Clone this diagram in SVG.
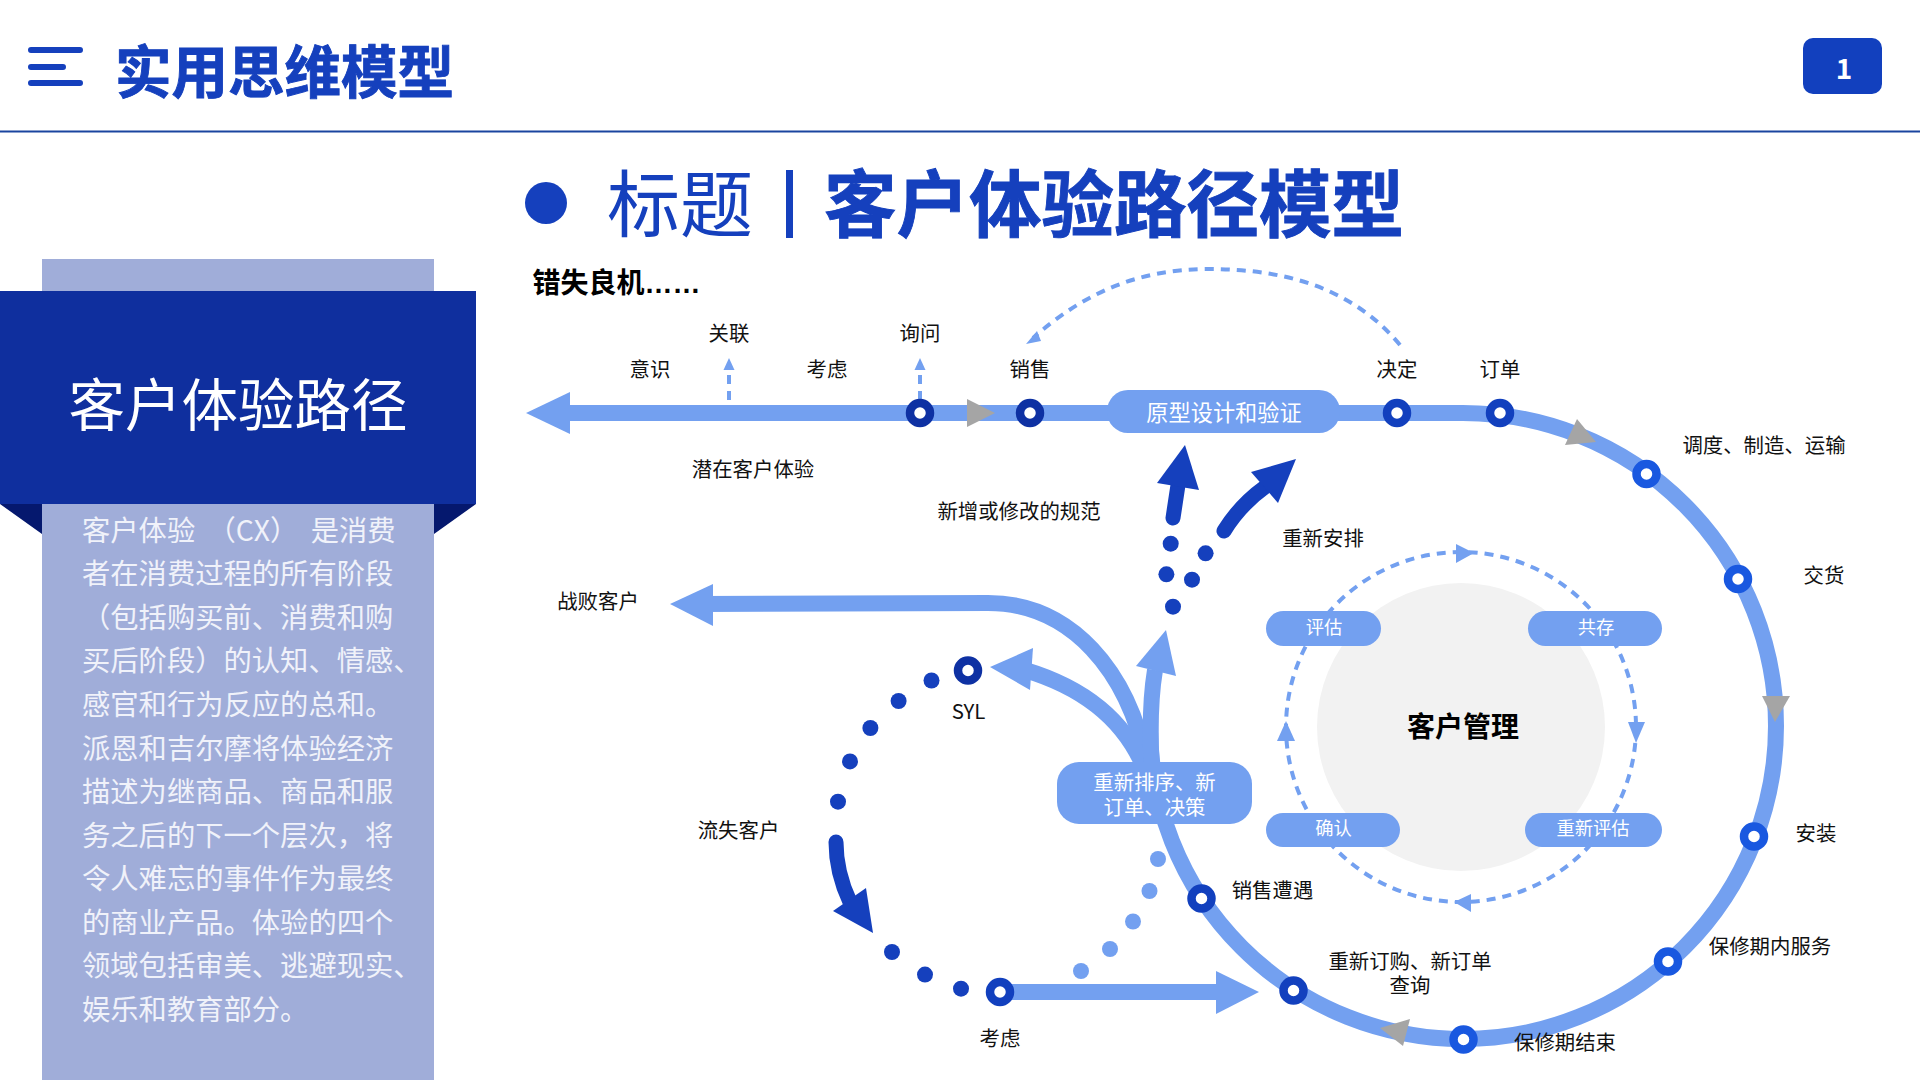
<svg xmlns="http://www.w3.org/2000/svg" width="1920" height="1080" viewBox="0 0 1920 1080">
<style>
text{font-family:"Noto Sans CJK SC","Noto Sans",sans-serif}
.lb{font-size:20.400px;fill:#111;text-anchor:middle}
.pt{fill:#fff;text-anchor:middle}
.b{font-weight:700}
.hv{font-weight:700;stroke:#1540BD;stroke-width:.9}
.tr{fill:none;stroke:#73A0F0;stroke-width:16}
.lt{fill:#73A0F0}
.gr{fill:#A5A5A5}
.dk{fill:#1540BD}
.ds{fill:none;stroke:#73A0F0;stroke-width:4;stroke-dasharray:9 7}
.da{fill:none;stroke:#1540BD;stroke-width:15;stroke-linecap:round}
.n1{fill:#fff;stroke:#0E31A3;stroke-width:8.500}
.n2{fill:#fff;stroke:#1240BE;stroke-width:8.500}
.n3{fill:#fff;stroke:#1958E0;stroke-width:8.500}
.body{font-size:28.300px;fill:#F0F2FA}
</style>
<rect width="1920" height="1080" fill="#fff"/>
<g id="header">
<path d="M31,50H80M31,67H63M31,83H80" fill="none" stroke="#1540BD" stroke-width="6" stroke-linecap="round"/>
<text x="115" y="93" font-size="56.500" class="hv" fill="#1540BD">实用思维模型</text>
<rect y="130.500" width="1920" height="2" fill="#1A459F"/>
<rect x="1803" y="38" width="79" height="56" rx="10" fill="#1240BE"/>
<text x="1844" y="79" font-size="28" class="b pt">1</text>
</g>
<g id="heading">
<circle cx="546" cy="203" r="21" fill="#1540BD"/>
<text x="607" y="231" font-size="73" fill="#1540BD">标题</text>
<rect x="786" y="170" width="7" height="68" fill="#1540BD"/>
<text x="824" y="231" font-size="72.500" class="hv" fill="#1540BD">客户体验路径模型</text>
<text x="532.500" y="293" font-size="28" class="b" fill="#000" style="font-family:'Liberation Sans','Noto Sans CJK SC',sans-serif">错失良机……</text>
</g>
<g id="left-panel">
<rect x="42" y="259" width="392" height="821" fill="#A0ADD9"/>
<rect y="291" width="476" height="213" fill="#0F2F9E"/>
<path d="M0,504H42V534ZM476,504H434V534Z" fill="#05186E"/>
<text x="238" y="426" font-size="56.500" class="pt">客户体验路径</text>
<g class="body">
<text x="82" y="540.500">客户体验<tspan dx="6"> （CX） </tspan><tspan dx="6">是消费</tspan></text>
<text x="82" y="584">者在消费过程的所有阶段</text>
<text x="82" y="627.500">（包括购买前、消费和购</text>
<text x="82" y="671.300">买后阶段）的认知、情感、</text>
<text x="82" y="714.800">感官和行为反应的总和。</text>
<text x="82" y="758.500">派恩和吉尔摩将体验经济</text>
<text x="82" y="802">描述为继商品、商品和服</text>
<text x="82" y="845.700">务之后的下一个层次，将</text>
<text x="82" y="889.200">令人难忘的事件作为最终</text>
<text x="82" y="932.800">的商业产品。体验的四个</text>
<text x="82" y="976.400">领域包括审美、逃避现实、</text>
<text x="82" y="1020">娱乐和教育部分。</text>
</g>
</g>
<circle id="core-disc" cx="1461" cy="727" r="144" fill="#F2F2F2"/>
<g id="connectors">
<path class="tr" d="M565,413H1463A313,313 0 1 1 1150,726"/>
<path class="lt" d="M526,413L570,392V434Z"/>
<path class="gr" d="M967,399L995,413L967,427Z"/>
<path class="gr" d="M1577,419L1596,442L1565,445Z"/>
<path class="gr" d="M1762,696H1790L1775,722Z"/>
<path class="gr" d="M1380,1028L1410,1019L1403,1046Z"/>
<path class="tr" d="M700,604L988,603C1070,603 1130,670 1148,770"/>
<path class="lt" d="M670,604L713,584V626Z"/>
<path class="tr" d="M1025,670C1085,688 1125,720 1145,770"/>
<path class="lt" d="M990,667L1033,648L1030,690Z"/>
<path class="tr" d="M1155,670C1150,700 1150,740 1152,775"/>
<path class="lt" d="M1166,630L1136,666L1176,676Z"/>
<path class="tr" d="M1000,992H1225"/>
<path class="lt" d="M1259,992L1216,971V1014Z"/>
<path class="ds" d="M729,375V400" stroke-dasharray="8 8"/>
<path class="lt" d="M729,358L734.500,370H723.500Z"/>
<path class="ds" d="M920,375V400" stroke-dasharray="8 8"/>
<path class="lt" d="M920,358L925.500,370H914.500Z"/>
<path class="ds" d="M1400,345C1350,285 1280,269 1208,269C1140,269 1085,292 1033,338"/>
<path class="lt" d="M1026,344L1037,331L1041,341Z"/>
<circle class="ds" cx="1461" cy="727" r="175"/>
<path class="lt" d="M1456,544L1474,553L1456,563Z"/>
<path class="lt" d="M1628,722H1645L1636,743Z"/>
<path class="lt" d="M1471,894L1454,902L1471,912Z"/>
<path class="lt" d="M1286,721L1277,741H1295Z"/>
<path class="da" d="M836,842C836,865 842,885 850,902"/>
<path class="dk" d="M873,933L833,911L866,888Z"/>
<path class="da" d="M1173,518L1178,485"/>
<path class="dk" d="M1185,445L1157,483L1199,490Z"/>
<path class="da" d="M1224,531Q1240,505 1265,487"/>
<path class="dk" d="M1296,459L1251,472L1278,503Z"/>
<g class="dk">
<circle cx="931.500" cy="680.500" r="8"/><circle cx="898.600" cy="701" r="8"/><circle cx="870.400" cy="728" r="8"/><circle cx="850" cy="761.400" r="8"/><circle cx="838" cy="801.700" r="8"/>
<circle cx="892" cy="952" r="8"/><circle cx="925" cy="974.600" r="8"/><circle cx="961" cy="988.700" r="8"/>
<circle cx="1170.700" cy="543.700" r="8"/><circle cx="1205.600" cy="553.300" r="8"/><circle cx="1166.400" cy="574.300" r="8"/><circle cx="1192" cy="579.700" r="8"/><circle cx="1173" cy="606.700" r="8"/>
</g>
<g class="lt">
<circle cx="1158" cy="859" r="8"/><circle cx="1149.500" cy="891" r="8"/><circle cx="1133" cy="921.500" r="8"/><circle cx="1110" cy="949" r="8"/><circle cx="1081" cy="971" r="8"/>
</g>
</g>
<g id="pill-prototype"><rect x="1107" y="390" width="233" height="43" rx="21" class="lt"/><text x="1224" y="420.500" font-size="22.200" class="pt">原型设计和验证</text></g>
<g id="pill-reorder"><rect x="1057" y="762" width="195" height="62" rx="22" class="lt"/><text x="1154.500" y="790" font-size="20.400" class="pt">重新排序、新<tspan x="1154.500" dy="24.500">订单、决策</tspan></text></g>
<g id="pill-assess"><rect x="1266" y="611" width="115" height="35" rx="17.500" class="lt"/><text x="1324" y="633.500" font-size="18.300" class="pt">评估</text></g>
<g id="pill-coexist"><rect x="1528" y="611" width="134" height="35" rx="17.500" class="lt"/><text x="1596" y="633.500" font-size="18.300" class="pt">共存</text></g>
<g id="pill-confirm"><rect x="1266" y="813" width="134" height="34" rx="17" class="lt"/><text x="1333.500" y="834.500" font-size="18.300" class="pt">确认</text></g>
<g id="pill-reassess"><rect x="1525" y="813" width="137" height="34" rx="17" class="lt"/><text x="1593" y="834.500" font-size="18.300" class="pt">重新评估</text></g>
<g id="node-core"><text x="1463" y="737" font-size="28" class="b" fill="#000" text-anchor="middle">客户管理</text></g>
<g id="node-awareness"><text x="650" y="377" class="lb">意识</text></g>
<g id="node-relate"><text x="729" y="341" class="lb">关联</text></g>
<g id="node-consider"><text x="827" y="377" class="lb">考虑</text></g>
<g id="node-inquiry"><circle cx="920" cy="413" r="10" class="n1"/><text x="920" y="341" class="lb">询问</text></g>
<g id="node-sales"><circle cx="1030" cy="413" r="10" class="n1"/><text x="1030" y="377" class="lb">销售</text></g>
<g id="node-decide"><circle cx="1397" cy="413" r="10" class="n2"/><text x="1397" y="377" class="lb">决定</text></g>
<g id="node-order"><circle cx="1500" cy="413" r="10" class="n2"/><text x="1500" y="377" class="lb">订单</text></g>
<g id="node-dispatch"><circle cx="1646.500" cy="474" r="10" class="n3"/><text x="1764" y="453" class="lb">调度、制造、运输</text></g>
<g id="node-delivery"><circle cx="1738" cy="579" r="10" class="n3"/><text x="1824" y="583" class="lb">交货</text></g>
<g id="node-install"><circle cx="1754" cy="836.500" r="10" class="n3"/><text x="1816" y="841" class="lb">安装</text></g>
<g id="node-warranty"><circle cx="1668" cy="961.500" r="10" class="n3"/><text x="1770" y="954" class="lb">保修期内服务</text></g>
<g id="node-warranty-end"><circle cx="1463.500" cy="1039.500" r="10" class="n3"/><text x="1565" y="1050" class="lb">保修期结束</text></g>
<g id="node-reorder"><circle cx="1293.500" cy="990.500" r="10" class="n2"/><text x="1410" y="969" class="lb">重新订购、新订单<tspan x="1410" dy="24">查询</tspan></text></g>
<g id="node-encounter"><circle cx="1201.500" cy="898.500" r="10" class="n2"/><text x="1272.500" y="898" class="lb">销售遭遇</text></g>
<g id="node-syl"><circle cx="968" cy="670.500" r="10" class="n1"/><text x="968.500" y="718.500" class="lb">SYL</text></g>
<g id="node-consider-2"><circle cx="1000" cy="992" r="10" class="n2"/><text x="1000" y="1045.600" class="lb">考虑</text></g>
<g id="node-potential"><text x="753" y="477" class="lb">潜在客户体验</text></g>
<g id="node-spec"><text x="1019" y="519" class="lb">新增或修改的规范</text></g>
<g id="node-reschedule"><text x="1323" y="546" class="lb">重新安排</text></g>
<g id="node-lost-deal"><text x="598" y="609" class="lb">战败客户</text></g>
<g id="node-churn"><text x="738.500" y="837.500" class="lb">流失客户</text></g>
</svg>
